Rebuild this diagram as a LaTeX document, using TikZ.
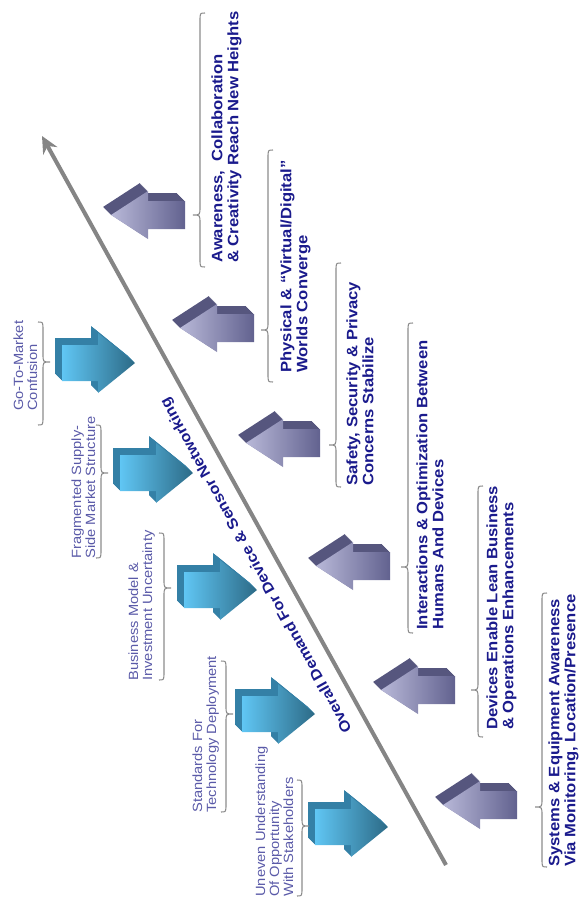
\documentclass[tikz,border=0pt]{standalone}
\usepackage{fontspec}
\setmainfont[FakeStretch=1.1]{Liberation Sans}
\usepackage{tikz}
\usetikzlibrary{arrows.meta}

\definecolor{navyink}{HTML}{1A1A8C}
\definecolor{slateink}{HTML}{5A5AA8}
\definecolor{trendgray}{HTML}{858585}
\definecolor{bracegray}{HTML}{8C8C8C}
\definecolor{cyanlight}{HTML}{60C6F4}
\definecolor{cyandark}{HTML}{2C6A86}
\definecolor{cyandepth}{HTML}{3480A6}
\definecolor{lilaclight}{HTML}{B8B8D8}
\definecolor{lilacdark}{HTML}{62628F}
\definecolor{lilacdepth}{HTML}{56567E}

\tikzstyle{driver} = [rotate=90, anchor=north west, inner sep=0pt, align=left, text=navyink, font=\bfseries\fontsize{8.6}{9.2}\selectfont]
\tikzstyle{inhibitor} = [rotate=90, anchor=north west, inner sep=0pt, align=left, text=slateink, font=\fontsize{7.6}{8}\selectfont]
\tikzstyle{demand} = [rotate=119, yshift=3pt, anchor=south, text=navyink, font=\bfseries\fontsize{8.4}{9}\selectfont]
\tikzstyle{trend} = [line width=2.3pt, draw=trendgray, -{Stealth[length=3.4mm,width=3.2mm]}]
\tikzstyle{bracket} = [draw=bracegray, line width=0.6pt]

% blue block arrow pointing right, #1 = tip
\newcommand{\pusharrow}[1]{%
  \begin{scope}[shift={(#1)}]
    \foreach \s in {1,...,7}
      \fill[cyandepth, shift={(-\s,-\s)}] (0,0) -- (-37,-30) -- (-37,-18) -- (-73,-18) -- (-73,18) -- (-37,18) -- (-37,30) -- cycle;
    \shade[left color=cyanlight, right color=cyandark] (0,0) -- (-37,-30) -- (-37,-18) -- (-73,-18) -- (-73,18) -- (-37,18) -- (-37,30) -- cycle;
  \end{scope}}

% lilac block arrow pointing left, #1 = tip
\newcommand{\pullarrow}[1]{%
  \begin{scope}[shift={(#1)}]
    \foreach \s in {1,...,8}
      \fill[lilacdepth, shift={(-\s,-\s)}] (0,0) -- (37,-24) -- (37,-14) -- (74,-14) -- (74,14) -- (37,14) -- (37,24) -- cycle;
    \shade[left color=lilaclight, right color=lilacdark] (0,0) -- (37,-24) -- (37,-14) -- (74,-14) -- (74,14) -- (37,14) -- (37,24) -- cycle;
  \end{scope}}

% #1 spine x, #2 top y, #3 tip y, #4 bottom y
\newcommand{\bracetoleft}[4]{%
  \draw[bracket] ({#1+5},#2) .. controls (#1,#2) .. (#1,{#2+8}) -- (#1,{#3-8}) .. controls (#1,#3) .. ({#1-7},#3) .. controls (#1,#3) .. (#1,{#3+8}) -- (#1,{#4-8}) .. controls (#1,#4) .. ({#1+5},#4);}
\newcommand{\bracetoright}[4]{%
  \draw[bracket] ({#1-5},#2) .. controls (#1,#2) .. (#1,{#2+8}) -- (#1,{#3-8}) .. controls (#1,#3) .. ({#1+7},#3) .. controls (#1,#3) .. (#1,{#3+8}) -- (#1,{#4-8}) .. controls (#1,#4) .. ({#1-5},#4);}

\begin{document}
\begin{tikzpicture}[x=0.02cm, y=-0.02cm]
    \useasboundingbox (0,0) rectangle (584,909);

    \coordinate (low) at (446,865);
    \coordinate (high) at (42,136);
    \draw [trend] (low) -- node[demand, pos=0.425] (overall) {Overall Demand For Device \& Sensor Networking} (high);

    % drivers
    \coordinate (p1) at (111,215);
    \coordinate (p2) at (180,328);
    \coordinate (p3) at (246,443);
    \coordinate (p4) at (316,566);
    \coordinate (p5) at (381,690);
    \coordinate (p6) at (443,805);
    \foreach \p in {p1,p2,p3,p4,p5,p6} {\pullarrow{\p}}

    \bracetoleft{200}{13}{215}{267}
    \bracetoleft{268}{150}{330}{382}
    \bracetoleft{336}{263}{445}{487}
    \bracetoleft{408}{323}{567}{633}
    \bracetoleft{478}{486}{690}{737}
    \bracetoleft{542}{593}{807}{867}

    \node (awareness) [driver] at (211,263) {Awareness,\ \ Collaboration\\\& Creativity Reach New Heights};
    \node (physical) [driver] at (280,373) {Physical \& “Virtual/Digital”\\Worlds Converge};
    \node (safety) [driver] at (346,486) {Safety, Security \& Privacy\\Concerns Stabilize};
    \node (interactions) [driver] at (416,630) {Interactions \& Optimization Between\\Humans And Devices};
    \node (lean) [driver] at (486,730) {Devices Enable Lean Business\\\& Operations Enhancements};
    \node (systems) [driver] at (548,867) {Systems \& Equipment Awareness\\Via Monitoring, Location/Presence};

    % inhibitors
    \coordinate (b1) at (135,363);
    \coordinate (b2) at (193,473);
    \coordinate (b3) at (257,590);
    \coordinate (b4) at (315,714);
    \coordinate (b5) at (388,827);
    \foreach \b in {b1,b2,b3,b4,b5} {\pusharrow{\b}}

    \bracetoright{43}{322}{362}{425}
    \bracetoright{101}{425}{473}{558}
    \bracetoright{164}{533}{588}{680}
    \bracetoright{226}{661}{714}{812}
    \bracetoright{302}{780}{826}{896}

    \node (market) [inhibitor] at (13,411) {Go-To-Market\\Confusion};
    \node (supply) [inhibitor] at (71,559) {Fragmented Supply-\\Side Market Structure};
    \node (business) [inhibitor] at (128,681) {Business Model \&\\Investment Uncertainty};
    \node (standards) [inhibitor] at (192,813) {Standards For\\Technology Deployment};
    \node (uneven) [inhibitor] at (255,897) {Uneven Understanding\\Of Opportunity\\With Stakeholders};

\end{tikzpicture}
\end{document}
